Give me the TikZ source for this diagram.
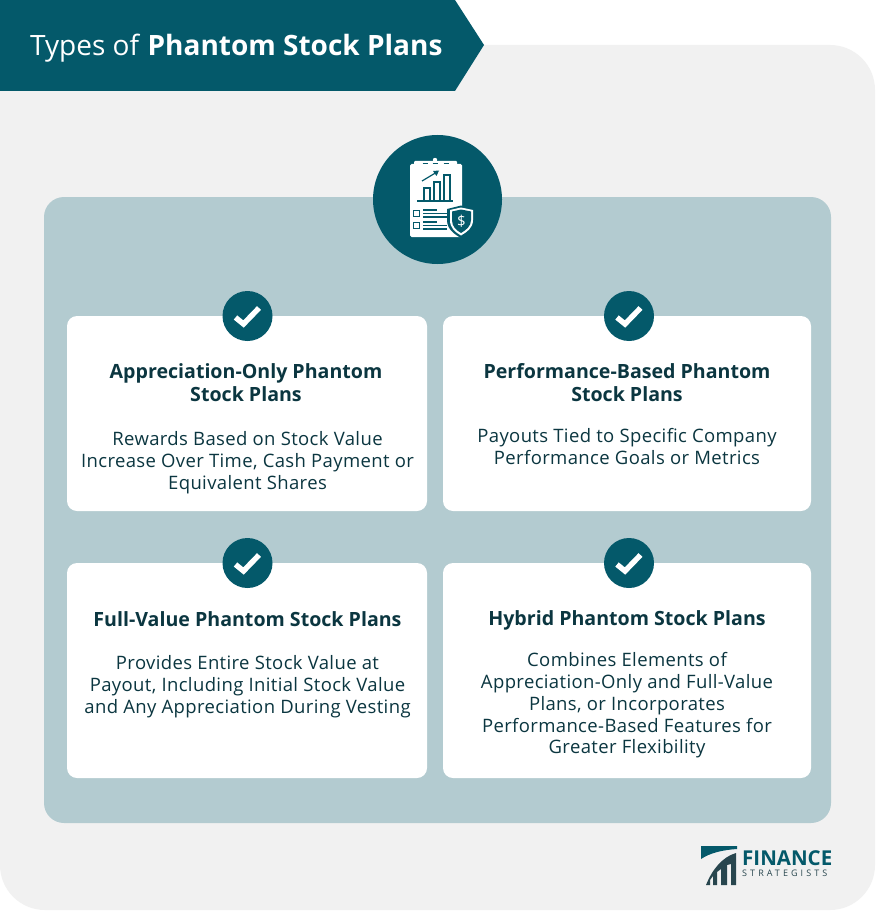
\documentclass[tikz,border=0pt]{standalone}
\usepackage{fontspec}
\setmainfont{Open Sans}
\definecolor{teal}{HTML}{04596A}
\definecolor{panelgray}{HTML}{F1F1F1}
\definecolor{panelblue}{HTML}{B3CBD0}
\definecolor{inkdark}{HTML}{0B3640}
\definecolor{logodark}{HTML}{28464E}
\tikzset{
  card/.style={fill=white, rounded corners=10pt},
  tick/.style={circle, fill=teal, minimum size=50pt, inner sep=0pt},
  tickmark/.style={draw=white, line width=5.4pt},
  heading/.style={text=inkdark, align=center, font=\fontsize{19.6}{23}\selectfont\bfseries, inner sep=0pt},
  body/.style={text=inkdark, align=center, font=\addfontfeatures{LetterSpace=2}\fontsize{18.5}{21.7}\selectfont, inner sep=0pt},
}
\begin{document}
\begin{tikzpicture}[x=1pt, y=-1pt]
            \useasboundingbox (0,0) rectangle (875,912);
            \fill[white] (0,0) rectangle (875,912);
            \fill[panelgray, rounded corners=45pt] (0,45) rectangle (875,910);
            % header
            \fill[teal] (0,0) -- (455,0) -- (484,45) -- (455,91) -- (0,91) -- cycle;
            \node[text=white, anchor=base west, inner sep=0pt, font=\fontsize{28}{30}\selectfont] (title) at (30,55.5) {Types of \textbf{Phantom Stock Plans}};
            % blue panel
            \fill[panelblue, rounded corners=20pt] (44,197) rectangle (831,823);
            \node[circle, fill=teal, minimum size=129pt, inner sep=0pt] (badge) at (437.5,199.5) {};
            % cards
            \path[card] (67,316) rectangle (427,511);
            \path[card] (443,316) rectangle (811,511);
            \path[card] (67,563) rectangle (427,778);
            \path[card] (443,563) rectangle (811,778);
            % ticks
            \foreach \tx/\ty/\tname in {247.5/316/tickA, 629/316/tickB, 247.5/563/tickC, 629/563/tickD} {
                \node[tick] (\tname) at (\tx,\ty) {};
                \draw[tickmark] (\tx-12,\ty+1.5) -- (\tx-4,\ty+8) -- (\tx+11.5,\ty-8);
            }
            % texts
            \node[heading] (headA) at (246,383) {Appreciation-Only Phantom\\Stock Plans};
            \node[body] (bodyA) at (247.5,462.5) {Rewards Based on Stock Value\\Increase Over Time, Cash Payment or\\Equivalent Shares};
            \node[heading] (headB) at (627,383) {Performance-Based Phantom\\Stock Plans};
            \node[body] (bodyB) at (627,446.5) {Payouts Tied to Specific Company\\Performance Goals or Metrics};
            \node[heading] (headC) at (247.5,619) {Full-Value Phantom Stock Plans};
            \node[body] (bodyC) at (247.5,686.5) {Provides Entire Stock Value at\\Payout, Including Initial Stock Value\\and Any Appreciation During Vesting};
            \node[heading] (headD) at (627,620.5) {Hybrid Phantom Stock Plans};
            \node[body] (bodyD) at (627,705.5) {Combines Elements of\\Appreciation-Only and Full-Value\\Plans, or Incorporates\\Performance-Based Features for\\Greater Flexibility};
            % icon
            \fill[white, rounded corners=1.5pt] (410,164) rectangle (462,237);
            \fill[white, rounded corners=1pt] (414,161) rectangle (457,166.5);
            \fill[white] (435,160) circle (2.2);
            \foreach \dx in {425,435,446} \draw[teal, line width=1pt] (\dx-2.5,163.5) -- (\dx+2.5,163.5);
            \fill[teal] (423,187) rectangle (431,201);
            \fill[white] (425,189) rectangle (429,201);
            \fill[teal] (433,181) rectangle (440.5,201);
            \fill[white] (435,183) rectangle (438.5,201);
            \fill[teal] (443,174) rectangle (451,201);
            \fill[white] (445,176) rectangle (449,201);
            \draw[teal, line width=1.3pt] (417,201) -- (453,201);
            \draw[teal, line width=1.2pt] (422,181) -- (437,172);
            \fill[teal] (439,170.5) -- (433,171) -- (436.5,176) -- cycle;
            \draw[teal, line width=1.2pt] (413.5,210.5) rectangle (419.5,216.5);
            \draw[teal, line width=1.2pt] (413.5,222.5) rectangle (419.5,228.5);
            \foreach \ly/\lx in {210/437, 213.5/447, 217/447, 222/437, 225.5/447, 229/447} \draw[teal, line width=1.2pt] (423,\ly) -- (\lx,\ly);
            \fill[teal] (447,209) -- (461,205.5) -- (475,209) -- (475,220) .. controls (475,229) and (468,234) .. (461,238) .. controls (454,234) and (447,229) .. (447,220) -- cycle;
            \fill[white] (450,210) -- (461,207.5) -- (473,210) -- (473,220) .. controls (473,228) and (467,232) .. (461,235.5) .. controls (455,232) and (450,228) .. (450,220) -- cycle;
            \fill[teal] (452,211.5) -- (461,209.5) -- (471,211.5) -- (471,220) .. controls (471,226.5) and (466,230) .. (461,233) .. controls (456,230) and (452,226.5) .. (452,220) -- cycle;
            \node[text=white, inner sep=0pt, font=\fontsize{15}{15}\selectfont] (dollar) at (461.5,221) {\$};
            % logo
            \fill[teal] (701,846) -- (737,846) -- (737,849) .. controls (722,850) and (710,853) .. (701,859) -- cycle;
            \fill[logodark] (706,885) .. controls (712,870) and (722,857) .. (736,853) -- (736,885) -- (731,885) -- (731,864) -- (727,865) -- (727,885) -- (721,885) -- (721,869) -- (717,872) -- (717,885) -- (713,885) -- (713,876) -- (710,880) -- (710,885) -- cycle;
            \node[text=teal, anchor=base west, inner sep=0pt, text height=14pt, text depth=0pt, font=\fontsize{20.5}{20}\selectfont\bfseries] (logotop) at (742,865.5) {FINANCE};
            \node[text=logodark, anchor=base west, inner sep=0pt, text height=7pt, text depth=0pt, font=\addfontfeatures{LetterSpace=34}\fontsize{9}{10}\selectfont] (logobottom) at (742,876.5) {STRATEGISTS};
\end{tikzpicture}
\end{document}
